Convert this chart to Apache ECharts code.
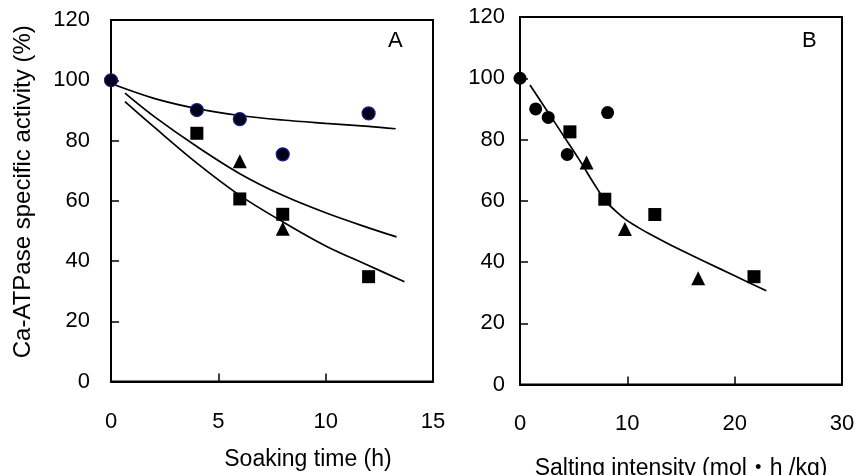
<!DOCTYPE html>
<html>
<head>
<meta charset="utf-8">
<script src="https://cdn.jsdelivr.net/npm/echarts@6/dist/echarts.min.js"></script>
<style>
  html, body { margin: 0; padding: 0; background: #fff; }
  #chart { width: 857px; height: 475px; }
</style>
</head>
<body>
<div id="chart"></div>
<script>
// Panel A: Ca-ATPase activity against soaking time (h)
var timeCircle = [0, 4, 6, 8, 12];
var actCircleA = [100, 90.1, 87.1, 75.4, 89.0];
var timeSquare = [4, 6, 8, 12];
var actSquareA = [82.4, 60.6, 55.5, 34.8];
var timeTriangle = [6, 8];
var actTriangleA = [73.1, 50.7];

// Fitted curves in panel A
var fitUpperX = [0.19, 2, 4, 6, 8, 10, 12, 13.26];
var fitUpperY = [98.4, 94.0, 90.6, 88.3, 86.8, 85.7, 84.7, 83.9];
var fitMiddleX = [0.65, 2, 4, 6, 8, 10, 12, 13.3];
var fitMiddleY = [95.7, 88.0, 78.0, 69.0, 61.8, 56.0, 51.0, 48.0];
var fitLowerX = [0.65, 2, 4, 6, 8, 10, 12, 13.67];
var fitLowerY = [92.9, 84.5, 72.5, 61.8, 53.0, 45.0, 38.5, 33.1];

// Panel B: the same activities against salting intensity (mol·h/kg)
var intCircle = [0, 1.46, 2.63, 4.4, 8.16];
var actCircleB = [100, 90.0, 87.2, 75.1, 88.8];
var intSquare = [4.65, 7.9, 12.56, 21.8];
var actSquareB = [82.5, 60.5, 55.5, 35.2];
var intTriangle = [6.2, 9.77, 16.6];
var actTriangleB = [72.5, 50.8, 34.7];

var fitBX = [0.93, 2.5, 4, 5.5, 7, 8, 8.8, 9.8, 11, 12, 14.5, 17, 20, 22.95];
var fitBY = [97.8, 89.5, 81.5, 73.5, 65.0, 59.8, 57.0, 54.0, 51.3, 49.3, 44.7, 40.5, 35.5, 30.6];

// Axis ticks
var timeTicks = { min: 0, max: 15, interval: 5 };
var intensityTicks = { min: 0, max: 30, interval: 10 };
var activityTicks = { min: 0, max: 120, interval: 20 };

function pairs(xs, ys) {
  return xs.map(function (x, i) { return [x, ys[i]]; });
}

var FONT = "'Liberation Sans', Arial, 'Noto Sans CJK JP', sans-serif";
var TICK_TEXT = { color: '#000', fontFamily: FONT, fontSize: 22 };

function xAxisFor(grid, ticks, name, nameGap, shift, labelMargin) {
  return {
    type: 'value', gridIndex: grid,
    min: ticks.min, max: ticks.max, interval: ticks.interval,
    name: name, nameLocation: 'middle', nameGap: nameGap,
    nameTextStyle: { color: '#000', fontFamily: FONT, fontSize: 23, padding: [0, 0, 0, shift] },
    axisLine: { show: true, onZero: false, lineStyle: { color: '#000', width: 2 } },
    axisTick: { show: true, inside: true, length: 8, lineStyle: { color: '#000', width: 1.5 } },
    axisLabel: Object.assign({ margin: labelMargin }, TICK_TEXT),
    splitLine: { show: false }
  };
}

function yAxisFor(grid, margin, drop, name) {
  var ax = {
    type: 'value', gridIndex: grid,
    min: activityTicks.min, max: activityTicks.max, interval: activityTicks.interval,
    axisLine: { show: true, onZero: false, lineStyle: { color: '#000', width: 2 } },
    axisTick: { show: true, inside: true, length: 8, lineStyle: { color: '#000', width: 1.5 } },
    axisLabel: Object.assign({ margin: margin, padding: [drop * 2, 0, 0, 0] }, TICK_TEXT),
    splitLine: { show: false }
  };
  if (name) {
    ax.name = name;
    ax.nameLocation = 'middle';
    ax.nameGap = 76;
    ax.nameRotate = 90;
    ax.nameTextStyle = { color: '#000', fontFamily: FONT, fontSize: 24, padding: [0, 0, 0, 18] };
  }
  return ax;
}

function markers(xi, yi, xs, ys, symbol, size, color, border) {
  return {
    type: 'scatter', xAxisIndex: xi, yAxisIndex: yi,
    symbol: symbol, symbolSize: size, z: 5,
    itemStyle: { color: color, opacity: 1, borderColor: border || color, borderWidth: border ? 1.2 : 0 },
    emphasis: { disabled: true },
    data: pairs(xs, ys)
  };
}

function curve(xi, yi, xs, ys) {
  return {
    type: 'line', xAxisIndex: xi, yAxisIndex: yi,
    smooth: 0.35, showSymbol: false, symbol: 'none', z: 3,
    lineStyle: { color: '#000', width: 1.7 },
    data: pairs(xs, ys)
  };
}

var chart = echarts.init(document.getElementById('chart'), null, { renderer: 'canvas' });
chart.setOption({
  animation: false,
  backgroundColor: '#fff',
  title: [
    { text: 'A', left: 383, top: 25, textStyle: { color: '#000', fontFamily: FONT, fontSize: 22, fontWeight: 'normal' } },
    { text: 'B', left: 797, top: 25, textStyle: { color: '#000', fontFamily: FONT, fontSize: 22, fontWeight: 'normal' } }
  ],
  grid: [
    { left: 111, top: 20, width: 322, height: 361.5, outerBoundsMode: 'none', containLabel: false,
      show: true, borderColor: '#000', borderWidth: 2, backgroundColor: 'transparent' },
    { left: 520, top: 17, width: 322, height: 367.5, outerBoundsMode: 'none', containLabel: false,
      show: true, borderColor: '#000', borderWidth: 2, backgroundColor: 'transparent' }
  ],
  xAxis: [
    xAxisFor(0, timeTicks, 'Soaking time (h)', 67, 72, 29),
    xAxisFor(1, intensityTicks, 'Salting intensity (mol\u30FBh /kg)', 73, 0, 28)
  ],
  yAxis: [
    yAxisFor(0, 21, 3, 'Ca-ATPase specific activity (%)'),
    yAxisFor(1, 15, 5, null)
  ],
  series: [
    curve(0, 0, fitUpperX, fitUpperY),
    curve(0, 0, fitMiddleX, fitMiddleY),
    curve(0, 0, fitLowerX, fitLowerY),
    markers(0, 0, timeCircle, actCircleA, 'circle', 13, '#000018', '#1c1c8a'),
    markers(0, 0, timeSquare, actSquareA, 'rect', 13, '#000'),
    markers(0, 0, timeTriangle, actTriangleA, 'triangle', 14, '#000'),
    curve(1, 1, fitBX, fitBY),
    markers(1, 1, intCircle, actCircleB, 'circle', 13, '#000'),
    markers(1, 1, intSquare, actSquareB, 'rect', 13, '#000'),
    markers(1, 1, intTriangle, actTriangleB, 'triangle', 14, '#000')
  ]
});
</script>
</body>
</html>
